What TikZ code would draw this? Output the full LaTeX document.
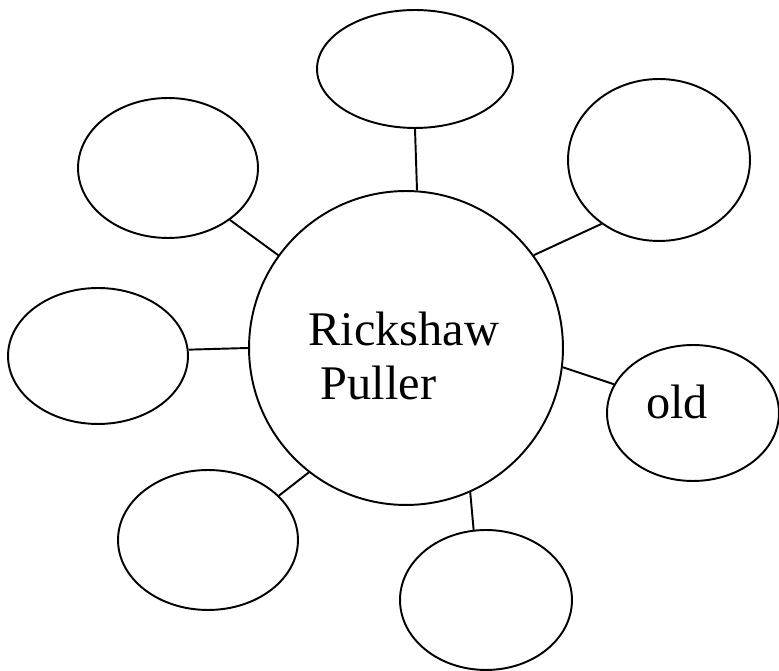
\documentclass[tikz,border=0pt]{standalone}
\usepackage{fontspec}
\setmainfont{Liberation Serif}
\usepackage{tikz}
\usetikzlibrary{shapes.geometric}

\tikzset{
  bubble/.style={draw, ellipse, line width=1.1pt, inner sep=0pt},
  spoke/.style={line width=1.1pt}
}

\begin{document}
\begin{tikzpicture}[x=0.02cm, y=-0.02cm, font=\fontsize{27.5}{31}\selectfont]
    \useasboundingbox (0,0) rectangle (779,671);
    % hub
    \node[draw, circle, line width=1.1pt, minimum size=6.28cm] (hub) at (406,348) {};
    \node[align=left] (hubtxt) at (404,356) {Rickshaw\\\hspace*{0.25em}Puller};
    % outer bubbles
    \node[bubble, minimum width=3.92cm, minimum height=2.36cm] (top) at (415,69) {};
    \node[bubble, minimum width=3.64cm, minimum height=3.24cm] (upright) at (659,160) {};
    \node[bubble, minimum width=3.60cm, minimum height=2.80cm] (upleft) at (168,168) {};
    \node[bubble, minimum width=3.60cm, minimum height=2.72cm] (left) at (98,356) {};
    \node[bubble, minimum width=3.44cm, minimum height=2.72cm] (right) at (693,413) {};
    \node[bubble, minimum width=3.60cm, minimum height=2.80cm] (lowleft) at (208,540) {};
    \node[bubble, minimum width=3.44cm, minimum height=2.80cm] (bottom) at (486,600) {};
    \node[anchor=base] (oldtxt) at (677,419) {old};
    % spokes
    \draw[spoke] (hub.86) -- (top.270);
    \draw[spoke] (hub.36) -- (upright.228);
    \draw[spoke] (hub.144) -- (upleft.320);
    \draw[spoke] (hub.180) -- (left.4);
    \draw[spoke] (hub.-7) -- (right.160);
    \draw[spoke] (hub.232) -- (lowleft.32);
    \draw[spoke] (hub.294) -- (bottom.100);
\end{tikzpicture}
\end{document}
